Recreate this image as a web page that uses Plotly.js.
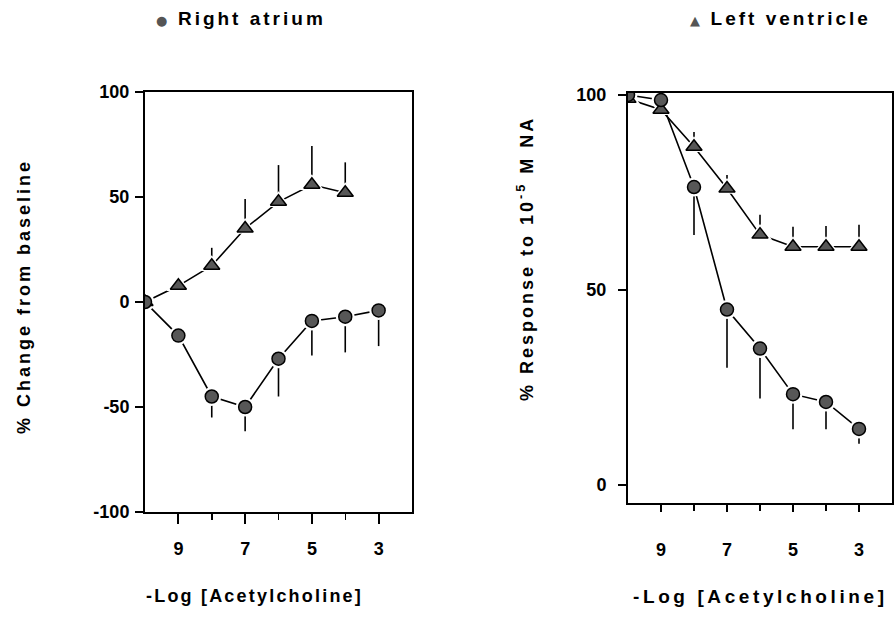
<!DOCTYPE html>
<html>
<head>
<meta charset="utf-8">
<script src="https://cdn.plot.ly/plotly-3.0.1.min.js"></script>
<style>html,body{margin:0;padding:0;background:#fff;}#chart{width:894px;height:624px;}</style>
</head>
<body>
<div id="chart"></div>
<script>
// -Log [Acetylcholine]
const conc = [10, 9, 8, 7, 6, 5, 4, 3];
const concLV = [10, 9, 8, 7, 6, 5, 4];
const xTickVals = [9, 7, 5, 3];
const xMinorVals = [8, 6, 4];
const leftYTickVals = [-100, -50, 0, 50, 100];
const leftYTickText = ['-100', '-50', '0', '50', '100'];
const rightYTickVals = [0, 50, 100];

// Left panel: % change from baseline
const raChange = [0, -16, -45, -50, -27, -9, -7, -4];
const raChangeErrDown = [0, 0, 10, 11.5, 18, 16.5, 17, 17];
const lvChange = [0, 7.7, 17.3, 35, 47.7, 55.8, 52];
const lvChangeErrUp = [0, 0, 8.5, 14, 17.5, 18.5, 14.5];

// Right panel: % response to 10^-5 M NA
const raResp = [100, 98.7, 76.4, 45, 35, 23.3, 21.3, 14.4];
const raRespErrDown = [0, 0, 12.3, 14.9, 12.8, 9, 7, 3.8];
const lvResp = [99, 96.2, 86.7, 76, 64.2, 61.1, 61.1, 61.1];
const lvRespErrUp = [0, 0, 3.8, 3.5, 5.1, 5.1, 5.3, 5.6];

const zeros = n => new Array(n).fill(0);

function lineTrace(x, y, up, down, xa, ya) {
  return {
    x: x, y: y, xaxis: xa, yaxis: ya, type: 'scatter', mode: 'lines',
    line: {color: '#000', width: 1.6}, hoverinfo: 'skip',
    error_y: {type: 'data', symmetric: false, array: up, arrayminus: down,
              color: '#000', thickness: 1.6, width: 0}
  };
}
function haloTrace(x, y, symbol, size, xa, ya) {
  return {x: x, y: y, xaxis: xa, yaxis: ya, type: 'scatter', mode: 'markers',
    marker: {symbol: symbol, size: size, color: '#fff', line: {width: 0}}, hoverinfo: 'skip'};
}
function markerTrace(x, y, symbol, size, name, xa, ya) {
  return {x: x, y: y, xaxis: xa, yaxis: ya, type: 'scatter', mode: 'markers', name: name,
    marker: {symbol: symbol, size: size, color: '#575757', line: {color: '#000', width: 1.5}}};
}

const data = [
  lineTrace(conc, raChange, zeros(conc.length), raChangeErrDown, 'x', 'y'),
  lineTrace(concLV, lvChange, lvChangeErrUp, zeros(concLV.length), 'x', 'y'),
  lineTrace(conc, raResp, zeros(conc.length), raRespErrDown, 'x2', 'y2'),
  lineTrace(conc, lvResp, lvRespErrUp, zeros(conc.length), 'x2', 'y2'),
  haloTrace(conc, raChange, 'circle', 19, 'x', 'y'),
  haloTrace(concLV, lvChange, 'triangle-up', 21, 'x', 'y'),
  haloTrace(conc, raResp, 'circle', 19, 'x2', 'y2'),
  haloTrace(conc, lvResp, 'triangle-up', 21, 'x2', 'y2'),
  markerTrace(concLV, lvChange, 'triangle-up', 14, 'Left ventricle', 'x', 'y'),
  markerTrace(conc, raChange, 'circle', 13, 'Right atrium', 'x', 'y'),
  markerTrace(conc, lvResp, 'triangle-up', 14, 'Left ventricle', 'x2', 'y2'),
  markerTrace(conc, raResp, 'circle', 13, 'Right atrium', 'x2', 'y2')
];

const FONT = 'Liberation Sans, Arial, Helvetica, sans-serif';
const tickFont = {family: FONT, size: 18, color: '#000', weight: 700};

function xAxis(domain, anchor, standoff, ticklen) {
  return {
    domain: domain, anchor: anchor, range: [10, 2], tickmode: 'array', tickvals: xTickVals,
    ticks: 'outside', ticklen: ticklen, tickwidth: 2, tickcolor: '#000',
    showline: true, linewidth: 2, linecolor: '#000', mirror: true,
    showgrid: false, zeroline: false, tickfont: tickFont, ticklabelstandoff: standoff,
    minor: {tickmode: 'array', tickvals: xMinorVals, ticks: 'outside', ticklen: 6, tickwidth: 1.5, tickcolor: '#000', showgrid: false}
  };
}
function yAxis(domain, anchor, range, vals, text, standoff) {
  return {
    domain: domain, anchor: anchor, range: range, tickmode: 'array', tickvals: vals, ticktext: text,
    ticks: 'outside', ticklen: 8, tickwidth: 1.5, tickcolor: '#000',
    showline: true, linewidth: 2, linecolor: '#000', mirror: true,
    showgrid: false, zeroline: false, tickfont: tickFont, ticklabelstandoff: standoff
  };
}

const sp = (t, s) => '<span style="letter-spacing:' + s + 'px">' + t + '</span>';
const sym = g => '<span style="font-family:DejaVu Sans;font-size:13px;fill:#555">' + g + '</span>';
const annFont = {family: FONT, size: 18, color: '#000', weight: 700};
const legFont = {family: FONT, size: 19, color: '#000', weight: 700};

const layout = {
  width: 894, height: 624,
  margin: {l: 0, r: 0, t: 0, b: 0},
  paper_bgcolor: '#fff', plot_bgcolor: '#fff',
  showlegend: false,
  xaxis: xAxis([145/894, 412/894], 'y', 9, 10),
  yaxis: yAxis([1 - 512/624, 1 - 92/624], 'x', [-100, 100], leftYTickVals, leftYTickText, 2),
  xaxis2: xAxis([628/894, 892/894], 'y2', 22, 7),
  yaxis2: yAxis([1 - 503/624, 1 - 93/624], 'x2', [-4.6, 100.5], rightYTickVals, rightYTickVals.map(String), 8),
  annotations: [
    {xref: 'paper', yref: 'paper', x: 154/894, y: 1 - 18/624, xanchor: 'left', yanchor: 'middle', showarrow: false,
     font: legFont, text: sym('●') + '&nbsp;&nbsp;' + sp('Right atrium', 3)},
    {xref: 'paper', yref: 'paper', x: 688/894, y: 1 - 18/624, xanchor: 'left', yanchor: 'middle', showarrow: false,
     font: legFont, text: sym('▲') + '&nbsp;&nbsp;' + sp('Left ventricle', 3)},
    {xref: 'paper', yref: 'paper', x: 24/894, y: 1 - 297/624, xanchor: 'center', yanchor: 'middle', showarrow: false,
     textangle: -90, font: annFont, text: sp('% Change from baseline', 3)},
    {xref: 'paper', yref: 'paper', x: 525/894, y: 1 - 259/624, xanchor: 'center', yanchor: 'middle', showarrow: false,
     textangle: -90, font: annFont, text: sp('% Response to 10<sup>-5</sup> M NA', 3)},
    {xref: 'paper', yref: 'paper', x: 255/894, y: 1 - 596/624, xanchor: 'center', yanchor: 'middle', showarrow: false,
     font: annFont, text: sp('-Log [Acetylcholine]', 2.2)},
    {xref: 'paper', yref: 'paper', x: 760/894, y: 1 - 596/624, xanchor: 'center', yanchor: 'middle', showarrow: false,
     font: legFont, text: sp('-Log [Acetylcholine]', 3.6)}
  ]
};

Plotly.newPlot('chart', data, layout, {displayModeBar: false, staticPlot: true});
</script>
</body>
</html>
